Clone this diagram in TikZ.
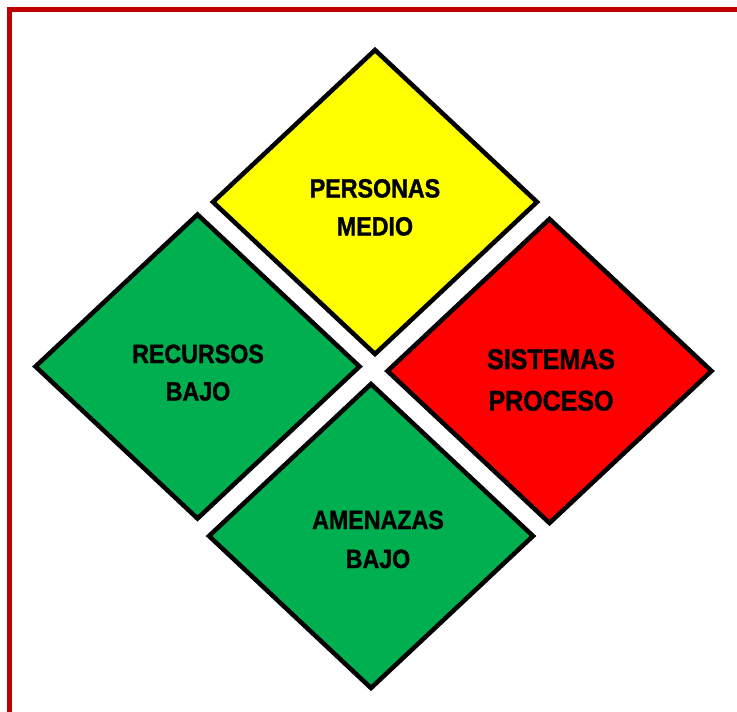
\documentclass[tikz,border=0pt]{standalone}
\usepackage{fontspec}
\setmainfont{Liberation Sans}
\newfontfamily\narrowsans[FakeStretch=0.88,FakeBold=1.2]{Liberation Sans}
\definecolor{bordred}{RGB}{192,0,0}
\definecolor{dyel}{RGB}{255,255,0}
\definecolor{dgreen}{RGB}{0,176,80}
\definecolor{dred}{RGB}{255,0,0}
\tikzset{
  diam/.style={draw=black, line width=3.4pt, line join=miter},
  lab/.style={font=\narrowsans\bfseries\fontsize{19.8}{22}\selectfont, anchor=base, inner sep=0pt, text=black},
  labbig/.style={lab, font=\narrowsans\bfseries\fontsize{21.3}{24}\selectfont}
}
\begin{document}
\begin{tikzpicture}[x=0.75pt,y=-0.75pt]
\useasboundingbox (0,0) rectangle (737,711);
\clip (0,0) rectangle (737,711);
\fill[white] (0,0) rectangle (737,711);
% frame
\draw[bordred, line width=3.2pt] (9.5,9.5) rectangle (800,800);
% diamonds
\draw[diam, fill=dyel]   (375,202) ++(0,-152) -- ++(162,152) -- ++(-162,152) -- ++(-162,-152) -- cycle;
\draw[diam, fill=dgreen] (197.5,366.5) ++(0,-152) -- ++(162,152) -- ++(-162,152) -- ++(-162,-152) -- cycle;
\draw[diam, fill=dred]   (549.5,371) ++(0,-152) -- ++(162,152) -- ++(-162,152) -- ++(-162,-152) -- cycle;
\draw[diam, fill=dgreen] (371,536) ++(0,-152) -- ++(162,152) -- ++(-162,152) -- ++(-162,-152) -- cycle;
% labels
\node[lab] (p1) at (375,197.5) {PERSONAS};
\node[lab] (p2) at (375,235.5) {MEDIO};
\node[lab] (r1) at (198,363) {RECURSOS};
\node[lab] (r2) at (198,400.5) {BAJO};
\node[labbig] (s1) at (551,369) {SISTEMAS};
\node[labbig] (s2) at (551,410.5) {PROCESO};
\node[lab] (a1) at (378,529) {AMENAZAS};
\node[lab] (a2) at (378,568) {BAJO};
\end{tikzpicture}
\end{document}
